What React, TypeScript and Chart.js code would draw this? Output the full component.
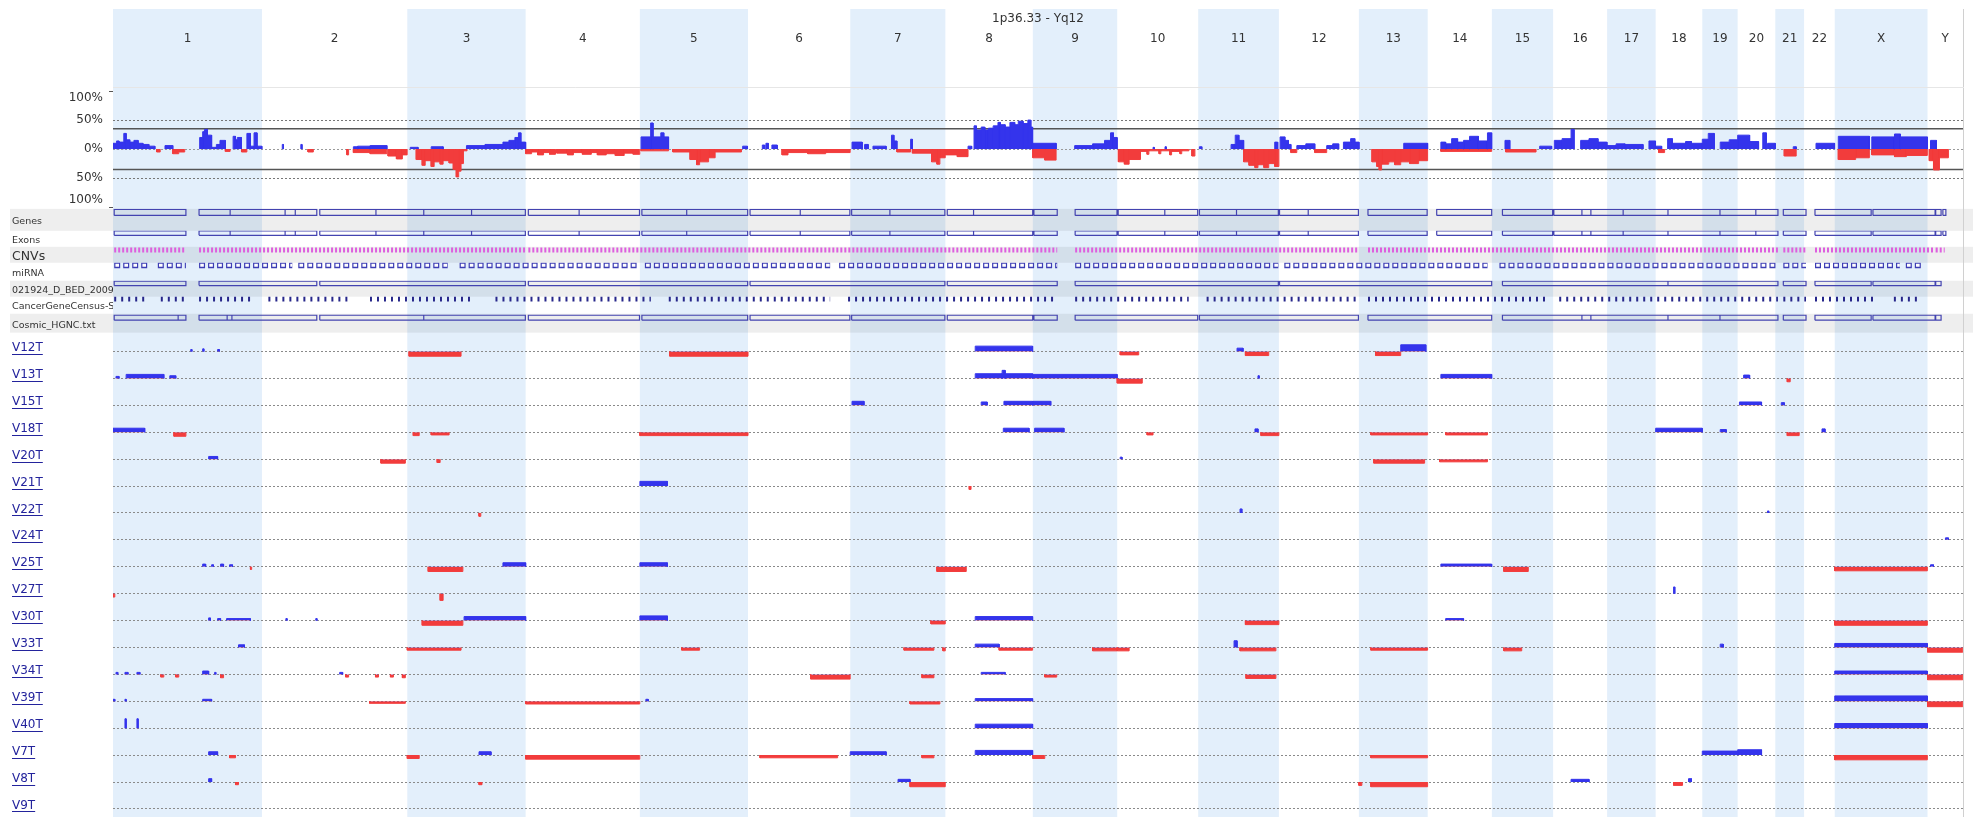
import React, { useEffect, useRef } from 'react';
import { Chart, registerables } from 'chart.js';

Chart.register(...registerables);

const W = 1973;
const H = 817;
const BLUE = '#3434ec';
const RED = '#f23c3c';
const BAND = '#e3effb';
const LINK = '#23239c';
const FONT = '"DejaVu Sans", Verdana, sans-serif';

// ---------- genome ----------
const chromNames = ['1','2','3','4','5','6','7','8','9','10','11','12','13','14','15','16','17','18','19','20','21','22','X','Y'];
const chromLengths = [249.25,243.2,198.02,191.15,180.92,171.12,159.14,146.36,141.21,135.53,135.01,133.85,115.17,107.35,102.53,90.35,81.2,78.08,59.13,63.03,48.13,51.3,155.27,59.37];
const genomeTitle = '1p36.33 - Yq12';

// ---------- frequency panel (% of samples) ----------
const freqTicks = [100, 50, 0, -50, -100];
const thresholds = [35, -35];
type Seg = [string, number, number, number];
const freqGain: Seg[] = [
  ['1',0,6,10],['1',6,10,14],['1',10,18,12],['1',18,22,27],['1',22,28,16],['1',28,35,12],['1',35,42,15],['1',42,50,10],['1',50,60,8],['1',60,70,5],['1',87,100,6],
  ['1',145,150,20],['1',150,153,30],['1',153,158,34],['1',158,165,24],['1',165,173,3],['1',173,179,8],['1',179,188,15],
  ['1',201,205,22],['1',205,208,16],['1',208,215,20],['1',224,230,27],['1',230,236,5],['1',236,241,28],['1',241,249,5],
  ['2',34,36,8],['2',65,67,8],['2',153,160,4],['2',160,181,5],['2',181,209,6],
  ['3',5,18,3],['3',40,60,4],['3',99,130,6],['3',130,160,8],['3',160,170,12],['3',170,180,15],['3',180,186,20],['3',186,190,28],['3',190,198,12],
  ['5',2,18,21],['5',18,22,45],['5',22,35,21],['5',35,40,28],['5',40,48,21],['5',172,180,5],
  ['6',24,28,7],['6',30,34,10],['6',40,49,7],
  ['7',3,20,12],['7',24,30,8],['7',38,60,5],['7',69,73,24],['7',73,78,14],['7',101,104,17],
  ['8',38,44,5],['8',48,52,40],['8',52,60,33],['8',60,66,38],['8',66,72,33],['8',72,80,36],['8',80,88,40],['8',88,92,46],['8',92,100,42],['8',100,108,38],['8',108,116,46],['8',116,122,42],['8',122,130,48],['8',130,138,44],['8',138,143,50],['8',143,146,38],
  ['9',0,39,10],['9',70,100,6],['9',100,120,9],['9',120,130,15],['9',130,135,28],['9',135,141,20],
  ['10',60,62,3],['10',80,82,4],
  ['11',2,6,4],['11',55,62,8],['11',62,68,24],['11',68,76,15],['11',128,133,12],
  ['12',2,10,21],['12',10,16,15],['12',16,20,8],['12',30,45,6],['12',45,60,9],['12',80,90,6],['12',90,100,9],['12',108,120,12],['12',120,127,18],['12',127,134,12],
  ['13',75,115,10],
  ['14',22,30,12],['14',30,40,9],['14',40,50,18],['14',50,60,12],['14',60,70,15],['14',70,85,22],['14',85,100,14],['14',100,107,28],
  ['15',22,30,15],['15',80,100,5],
  ['16',2,15,15],['16',15,30,18],['16',30,35,34],['16',46,60,15],['16',60,75,18],['16',75,90,12],
  ['17',0,15,6],['17',15,30,9],['17',30,60,8],['17',70,81,14],
  ['18',0,10,5],['18',20,28,18],['18',28,50,10],['18',50,60,13],['18',60,78,10],
  ['19',0,10,17],['19',10,20,27],['19',30,45,12],['19',45,59,16],
  ['20',0,20,24],['20',20,35,13],['20',42,48,28],['20',50,63,10],
  ['21',30,35,4],
  ['22',20,51,10],
  ['X',6,58,22],['X',62,100,21],['X',100,110,26],['X',110,155,21],
  ['Y',5,15,15],
];
const freqLoss: Seg[] = [
  ['1',73,79,-5],['1',100,110,-8],['1',110,120,-5],['1',188,196,-4],['1',215,224,-5],
  ['2',77,86,-5],['2',142,145,-10],['2',153,181,-6],['2',181,209,-8],['2',211,225,-12],['2',225,235,-17],['2',235,243,-10],
  ['3',15,25,-18],['3',25,30,-28],['3',30,40,-20],['3',40,45,-30],['3',45,55,-22],['3',55,60,-26],['3',60,70,-20],['3',70,77,-24],['3',77,82,-35],['3',82,86,-48],['3',86,90,-38],['3',90,94,-25],['3',94,100,-3],
  ['4',0,10,-8],['4',10,20,-5],['4',20,30,-10],['4',30,40,-6],['4',40,50,-9],['4',52,70,-7],['4',70,80,-10],['4',80,95,-6],['4',95,110,-9],['4',110,120,-6],['4',120,135,-10],['4',135,150,-8],['4',150,165,-11],['4',165,180,-7],['4',180,191,-9],
  ['5',2,48,-3],['5',55,84,-5],['5',84,95,-18],['5',95,100,-27],['5',100,115,-22],['5',115,126,-15],['5',126,170,-5],
  ['6',57,67,-10],['6',67,100,-6],['6',100,130,-8],['6',130,171,-6],
  ['7',78,101,-5],['7',104,136,-7],['7',136,145,-22],['7',145,150,-26],['7',150,159,-15],
  ['8',0,20,-10],['8',20,38,-13],
  ['9',0,20,-15],['9',20,39,-19],
  ['10',2,12,-22],['10',12,20,-26],['10',20,39,-18],['10',39,50,-4],['10',50,53,-9],['10',53,70,-3],['10',70,73,-8],['10',73,88,-3],['10',88,91,-10],['10',91,105,-4],['10',105,108,-8],['10',108,120,-3],['10',125,130,-12],
  ['11',76,85,-22],['11',85,95,-28],['11',95,100,-32],['11',100,110,-27],['11',110,118,-32],['11',118,128,-25],['11',128,135,-30],
  ['12',20,30,-6],['12',60,80,-6],
  ['13',22,30,-22],['13',30,34,-30],['13',34,38,-36],['13',38,50,-26],['13',50,60,-22],['13',60,70,-27],['13',70,85,-22],['13',85,100,-25],['13',100,115,-20],
  ['14',22,107,-4],
  ['15',23,74,-5],
  ['18',5,15,-6],
  ['21',15,35,-12],
  ['X',6,35,-18],['X',35,58,-15],['X',62,100,-10],['X',100,120,-13],['X',120,155,-11],
  ['Y',3,10,-20],['Y',10,20,-36],['Y',20,35,-15],
];

// ---------- annotation tracks (Mb along the concatenated genome axis) ----------
const trackNames = ['Genes','Exons','CNVs','miRNA','021924_D_BED_2009','CancerGeneCensus-Sa','Cosmic_HGNC.txt'];
const trackWeights = [22,16,16,18,16,17,19];
const geneBoxes: [number, number][] = [[2,122],[144,196],[196,288],[288,305],[305,341],[346,440],[440,520],[520,600],[600,690],[695,780],[780,881],[885,960],[960,1062],[1066,1150],[1150,1233],[1236,1300],[1300,1392],[1396,1440],[1440,1539],[1541,1580],[1610,1680],[1682,1760],[1760,1815],[1818,1880],[1880,1950],[1952,2000],[2000,2084],[2100,2199],[2215,2307],[2325,2409],[2411,2458],[2458,2473],[2473,2527],[2527,2602],[2602,2689],[2689,2749],[2749,2786],[2795,2833],[2848,2942],[2945,3049],[3050,3059],[3062,3067]];
const exonBoxes: [number, number][] = geneBoxes;
const bedBoxes: [number, number][] = [[2,122],[144,341],[346,690],[695,1062],[1066,1392],[1396,1580],[1610,1950],[1952,2307],[2325,2602],[2602,2786],[2795,2833],[2848,2942],[2945,3049],[3050,3059]];
const cosmicBoxes: [number, number][] = [[2,109],[109,122],[144,191],[191,199],[199,341],[346,520],[520,690],[695,881],[885,1062],[1066,1233],[1236,1392],[1396,1539],[1541,1580],[1610,1815],[1818,2084],[2100,2307],[2325,2458],[2458,2473],[2473,2602],[2602,2689],[2689,2786],[2795,2833],[2848,2942],[2945,3049],[3050,3059]];
const cnvRuns: [number, number][] = [[2,122],[144,690],[695,1580],[1610,2084],[2100,2786],[2795,2833],[2848,3049],[3050,3065]];
const mirnaRuns: [number, number][] = [[2,60],[75,122],[144,300],[310,560],[580,880],[890,1200],[1215,1580],[1610,1950],[1960,2300],[2320,2786],[2795,2833],[2848,2990],[3000,3030]];
const cgcRuns: [number, number][] = [[2,60],[80,122],[144,230],[260,400],[430,600],[640,900],[930,1200],[1230,1580],[1610,1800],[1830,2084],[2100,2400],[2420,2786],[2795,2833],[2848,2950],[2980,3020]];

// ---------- samples (segments: chrom, start Mb, end Mb, log ratio) ----------
const sampleNames = ['V12T','V13T','V15T','V18T','V20T','V21T','V22T','V24T','V25T','V27T','V30T','V33T','V34T','V39T','V40T','V7T','V8T','V9T'];
const V12T: Seg[] = [['1',130,132,0.3],['1',150,152,0.4],['1',175,178,0.3],['3',3,90,-0.7],['5',50,181,-0.7],['8',50,146,0.8],['10',5,36,-0.5],['11',65,75,0.5],['11',79,118,-0.6],['13',28,70,-0.6],['13',70,112,1.0]];
const V13T: Seg[] = [['1',5,10,0.3],['1',22,85,0.6],['1',95,105,0.4],['8',50,95,0.7],['8',95,100,1.2],['8',100,146,0.7],['9',0,141,0.6],['10',0,42,-0.7],['11',100,102,0.4],['14',22,107,0.6],['20',10,20,0.5],['21',20,25,-0.5]];
const V15T: Seg[] = [['7',3,23,0.6],['8',60,70,0.5],['8',98,146,0.6],['9',0,30,0.6],['20',3,40,0.5],['21',10,15,0.4]];
const V18T: Seg[] = [['1',0,53,0.6],['1',102,122,-0.6],['3',10,20,-0.5],['3',40,70,-0.4],['5',0,181,-0.5],['8',97,140,0.6],['9',3,52,0.6],['10',50,60,-0.4],['11',95,100,0.5],['11',105,135,-0.5],['13',20,115,-0.4],['14',30,100,-0.4],['18',0,78,0.6],['19',30,40,0.4],['21',20,40,-0.5],['22',30,35,0.5]];
const V20T: Seg[] = [['1',160,175,0.4],['2',199,240,-0.6],['3',50,55,-0.5],['10',5,8,0.3],['13',25,110,-0.6],['14',20,100,-0.4]];
const V21T: Seg[] = [['5',0,46,0.7],['8',40,43,-0.5]];
const V22T: Seg[] = [['3',120,123,-0.5],['11',70,73,0.6],['20',50,52,0.3]];
const V24T: Seg[] = [['Y',30,35,0.3]];
const V25T: Seg[] = [['1',150,155,0.4],['1',165,168,0.3],['1',180,185,0.4],['1',195,200,0.3],['1',230,232,-0.4],['3',35,93,-0.7],['3',160,198,0.6],['5',0,46,0.6],['7',145,159,-0.7],['8',0,35,-0.7],['14',22,107,0.4],['15',20,61,-0.7],['X',0,155,-0.6],['Y',5,10,0.3]];
const V27T: Seg[] = [['1',0,3,-0.5],['3',55,60,-1.0],['18',30,32,1.0]];
const V30T: Seg[] = [['1',160,163,0.4],['1',175,180,0.3],['1',190,230,0.3],['2',40,42,0.3],['2',90,92,0.3],['3',25,93,-0.7],['3',95,198,0.6],['5',0,46,0.7],['7',135,159,-0.5],['8',50,146,0.6],['11',79,135,-0.6],['14',30,60,0.3],['X',0,155,-0.7]];
const V33T: Seg[] = [['1',210,220,0.4],['3',0,90,-0.4],['5',70,100,-0.4],['7',90,140,-0.4],['7',155,159,-0.5],['8',50,90,0.5],['8',90,146,-0.4],['9',100,141,-0.5],['10',0,20,-0.5],['11',60,65,1.0],['11',70,130,-0.5],['13',20,115,-0.4],['15',20,50,-0.5],['19',30,35,0.5],['X',0,155,0.6],['Y',0,59,-0.7]];
const V34T: Seg[] = [['1',5,8,0.3],['1',20,25,0.3],['1',40,45,0.3],['1',80,85,-0.4],['1',105,110,-0.4],['1',150,160,0.5],['1',170,172,0.3],['1',180,185,-0.5],['2',130,135,0.3],['2',140,145,-0.4],['2',190,195,-0.4],['2',215,220,-0.4],['2',235,240,-0.5],['6',105,171,-0.7],['7',120,140,-0.5],['8',60,100,0.3],['9',20,40,-0.4],['11',80,130,-0.6],['X',0,155,0.5],['Y',0,59,-0.8]];
const V39T: Seg[] = [['1',0,3,0.3],['1',20,22,0.3],['1',150,165,0.3],['2',180,240,-0.3],['4',0,191,-0.4],['5',10,14,0.3],['7',100,150,-0.4],['8',50,146,0.4],['X',0,155,0.8],['Y',0,59,-0.8]];
const V40T: Seg[] = [['1',20,22,1.4],['1',40,42,1.4],['8',50,146,0.6],['X',0,155,0.7]];
const V7T: Seg[] = [['1',160,175,0.5],['1',195,205,-0.4],['3',0,20,-0.5],['3',120,140,0.5],['4',0,191,-0.6],['6',20,150,-0.4],['7',0,60,0.5],['7',120,140,-0.4],['8',50,146,0.7],['9',0,20,-0.5],['13',20,115,-0.4],['19',0,59,0.6],['20',0,40,0.8],['X',0,155,-0.7]];
const V8T: Seg[] = [['1',160,165,0.5],['1',205,210,-0.4],['3',120,125,-0.4],['7',80,100,0.4],['7',100,159,-0.7],['13',0,5,-0.5],['13',20,115,-0.7],['16',30,60,0.4],['18',30,45,-0.5],['18',55,60,0.5]];
const V9T: Seg[] = [];
const sampleSegs: Seg[][] = [V12T,V13T,V15T,V18T,V20T,V21T,V22T,V24T,V25T,V27T,V30T,V33T,V34T,V39T,V40T,V7T,V8T,V9T];
const sampleRange = [-1.2, 2.8];

export default function App() {
  const ref = useRef<HTMLCanvasElement>(null);
  useEffect(() => {
    document.body.style.margin = '0';
    const canvas = ref.current;
    if (!canvas) return;
    const offsets: Record<string, number> = {};
    let acc = 0;
    chromNames.forEach((c, i) => { offsets[c] = acc; acc += chromLengths[i]; });
    const total = acc;
    const mids = chromNames.map((c, i) => offsets[c] + chromLengths[i] / 2);

    const stepPts = (segs: Seg[]) => {
      const list = segs.map(([c, s, e, v]) => [offsets[c] + s, offsets[c] + e, v]).sort((a, b) => a[0] - b[0]);
      const pts: { x: number; y: number }[] = [{ x: 0, y: 0 }];
      for (const [s, e, v] of list) {
        pts.push({ x: s, y: 0 }, { x: s, y: v }, { x: e, y: v }, { x: e, y: 0 });
      }
      pts.push({ x: total, y: 0 });
      return pts;
    };
    const segColor = (ctx: any) => {
      const a = ctx.p0.parsed.y, b = ctx.p1.parsed.y;
      if (a === 0 && b === 0) return 'rgba(0,0,0,0)';
      return (a > 0 || b > 0) ? BLUE : RED;
    };
    const boxPts = (boxes: [number, number][], y0: number, y1: number) => {
      const pts: any[] = [];
      for (const [s, e] of boxes) {
        pts.push({ x: s, y: y0 }, { x: s, y: y1 }, { x: e, y: y1 }, { x: e, y: y0 }, { x: s, y: y0 }, { x: e, y: null });
      }
      return pts;
    };
    const runPts = (runs: [number, number][], y: number) => {
      const pts: any[] = [];
      for (const [s, e] of runs) pts.push({ x: s, y }, { x: e, y }, { x: e, y: null });
      return pts;
    };
    const noPad = (s: any) => { s.paddingLeft = 0; s.paddingRight = 0; s.paddingTop = 0; s.paddingBottom = 0; };

    const datasets: any[] = [];
    const scales: any = {};
    const LEFTW = 101;

    scales.x = {
      type: 'linear', position: 'top', min: 0, max: total,
      afterBuildTicks: (s: any) => { s.ticks = mids.map((v) => ({ value: v })); },
      afterFit: (s: any) => { s.height = 87; noPad(s); },
      ticks: { autoSkip: false, maxRotation: 0, minRotation: 0, padding: 41, color: '#333', font: { size: 12, family: FONT },
        callback: (_v: any, i: number) => chromNames[i] },
      grid: { display: false, drawTicks: false },
      border: { display: true, color: '#e6e6e6' },
      title: { display: true, text: genomeTitle, color: '#333', font: { size: 12, family: FONT }, padding: { top: 12, bottom: 0 } },
    };
    scales.freq = {
      type: 'linear', axis: 'y', position: 'left', stack: 'main', stackWeight: 122, weight: 100, min: -103, max: 107,
      afterBuildTicks: (s: any) => { s.ticks = freqTicks.map((v) => ({ value: v })); },
      afterFit: (s: any) => { s.width = LEFTW; noPad(s); },
      ticks: { autoSkip: false, padding: 6, color: '#333', font: { size: 12, family: FONT },
        callback: (v: any) => (v === 100 ? ['', '100%'] : v === -100 ? ['100%', ''] : Math.abs(v) + '%') },
      grid: {
        color: (c: any) => (c.tick && Math.abs(c.tick.value) === 100 ? 'rgba(0,0,0,0)' : c.tick && c.tick.value === 0 ? '#9a9a9a' : '#777'),
        tickColor: (c: any) => (c.tick && Math.abs(c.tick.value) === 100 ? '#555' : 'rgba(0,0,0,0)'),
        tickLength: 4, lineWidth: 1,
      },
      border: { display: false, dash: [2, 2] },
    };
    trackNames.forEach((n, i) => {
      scales['trk' + i] = {
        type: 'linear', axis: 'y', position: 'left', stack: 'main', stackWeight: trackWeights[i], weight: 99 - i, min: 0, max: 1,
        afterBuildTicks: (s: any) => { s.ticks = [{ value: 0.4 }]; },
        afterFit: (s: any) => { s.width = LEFTW; noPad(s); },
        ticks: { crossAlign: 'far', padding: 0, color: '#333', font: { size: n === 'CNVs' ? 12.5 : 9.5, family: FONT }, callback: () => n },
        grid: { display: false, drawTicks: false },
        border: { display: false },
      };
    });
    sampleNames.forEach((n, i) => {
      scales['s' + i] = {
        type: 'linear', axis: 'y', position: 'left', stack: 'main', stackWeight: 26.94, weight: 90 - i, min: sampleRange[0], max: sampleRange[1],
        afterBuildTicks: (s: any) => { s.ticks = [{ value: 0 }]; },
        afterFit: (s: any) => { s.width = LEFTW; noPad(s); },
        ticks: { crossAlign: 'far', padding: 0, labelOffset: -3.5, color: LINK, font: { size: 12, family: FONT }, callback: () => n },
        grid: { color: '#8a8a8a', lineWidth: 1, drawTicks: false },
        border: { display: false, dash: [2, 2] },
      };
    });

    // frequency data
    datasets.push({ label: 'gain', yAxisID: 'freq', data: stepPts(freqGain), borderColor: BLUE, borderWidth: 1, pointRadius: 0,
      fill: { target: { value: 0 }, above: BLUE, below: BLUE }, segment: { borderColor: segColor } });
    datasets.push({ label: 'loss', yAxisID: 'freq', data: stepPts(freqLoss), borderColor: RED, borderWidth: 1, pointRadius: 0,
      fill: { target: { value: 0 }, above: RED, below: RED }, segment: { borderColor: segColor } });
    thresholds.forEach((t) => {
      datasets.push({ label: 'thr', yAxisID: 'freq', data: [{ x: 0, y: t }, { x: total, y: t }], borderColor: '#555', borderWidth: 1.5, pointRadius: 0, fill: false });
    });

    // annotation tracks
    const boxStyle = { borderColor: '#4343b0', borderWidth: 1.2, pointRadius: 0, fill: false, spanGaps: false };
    datasets.push({ label: 'Genes', yAxisID: 'trk0', data: boxPts(geneBoxes, 0.7, 0.98), ...boxStyle });
    datasets.push({ label: 'Exons', yAxisID: 'trk1', data: boxPts(exonBoxes, 0.72, 1.0), ...boxStyle });
    datasets.push({ label: 'CNVs', yAxisID: 'trk2', data: runPts(cnvRuns, 0.8), borderColor: '#de5fde', borderWidth: 5, borderDash: [2, 2], pointRadius: 0, fill: false, spanGaps: false });
    datasets.push({ label: 'miRNA', yAxisID: 'trk3', data: runPts(mirnaRuns, 0.86), borderColor: '#3d3db4', borderWidth: 6, borderDash: [6, 3], pointRadius: 0, fill: false, spanGaps: false, order: 2 });
    datasets.push({ label: 'miRNA-in', yAxisID: 'trk3', data: runPts(mirnaRuns, 0.86), borderColor: '#ffffff', borderWidth: 3, borderDash: [3.6, 5.4], borderDashOffset: -1.2, pointRadius: 0, fill: false, spanGaps: false, order: -1 });
    datasets.push({ label: '021924', yAxisID: 'trk4', data: boxPts(bedBoxes, 0.7, 0.98), ...boxStyle });
    datasets.push({ label: 'CGC', yAxisID: 'trk5', data: runPts(cgcRuns, 0.9), borderColor: '#27278a', borderWidth: 6, borderDash: [2, 5], pointRadius: 0, fill: false, spanGaps: false });
    datasets.push({ label: 'Cosmic', yAxisID: 'trk6', data: boxPts(cosmicBoxes, 0.66, 0.92), ...boxStyle });

    // samples
    sampleSegs.forEach((segs, i) => {
      datasets.push({ label: sampleNames[i], yAxisID: 's' + i, data: stepPts(segs), borderWidth: 1, pointRadius: 0,
        borderColor: BLUE, fill: { target: { value: 0 }, above: BLUE, below: RED }, segment: { borderColor: segColor } });
    });

    const bgPlugin = {
      id: 'bgBands',
      beforeDraw(chart: any) {
        const { ctx, width, height } = chart;
        const xs = chart.scales.x;
        ctx.save();
        ctx.fillStyle = '#ffffff';
        ctx.fillRect(0, 0, width, height);
        ctx.fillStyle = BAND;
        chromNames.forEach((c, i) => {
          if (i % 2 !== 0) return;
          const x0 = xs.getPixelForValue(offsets[c]);
          const x1 = xs.getPixelForValue(offsets[c] + chromLengths[i]);
          ctx.fillRect(x0, 9, x1 - x0, height - 9);
        });
        ctx.fillStyle = 'rgba(0,0,0,0.065)';
        [0, 2, 4, 6].forEach((k) => {
          const s = chart.scales['trk' + k];
          ctx.fillRect(10, s.top, width - 10, s.bottom - s.top);
        });
        ctx.strokeStyle = '#d0d0d0';
        ctx.lineWidth = 1;
        ctx.beginPath();
        ctx.moveTo(Math.round(xs.right) + 0.5, 9);
        ctx.lineTo(Math.round(xs.right) + 0.5, height);
        ctx.stroke();
        ctx.restore();
      },
      afterDraw(chart: any) {
        const ctx = chart.ctx;
        ctx.save();
        ctx.font = '12px ' + FONT;
        ctx.strokeStyle = LINK;
        ctx.lineWidth = 1;
        sampleNames.forEach((n, i) => {
          const s = chart.scales['s' + i];
          const y = Math.round(s.getPixelForValue(0) - 3.5 + 6) + 0.5;
          const w = ctx.measureText(n).width;
          ctx.beginPath();
          ctx.moveTo(s.left, y);
          ctx.lineTo(s.left + w, y);
          ctx.stroke();
        });
        ctx.restore();
      },
    };

    const chart = new Chart(canvas, {
      type: 'line',
      data: { datasets },
      options: {
        responsive: false,
        animation: false,
        devicePixelRatio: 1,
        events: [],
        layout: { padding: { left: 12, right: 10, top: 0, bottom: 0 } },
        plugins: { legend: { display: false }, tooltip: { enabled: false }, title: { display: false } },
        elements: { line: { tension: 0 } },
        scales,
      } as any,
      plugins: [bgPlugin],
    });
    return () => chart.destroy();
  }, []);
  return (
    <div style={{ position: 'absolute', left: 0, top: 0, width: W, height: H, background: '#fff' }}>
      <canvas ref={ref} width={W} height={H} style={{ display: 'block', width: W, height: H }} />
    </div>
  );
}
